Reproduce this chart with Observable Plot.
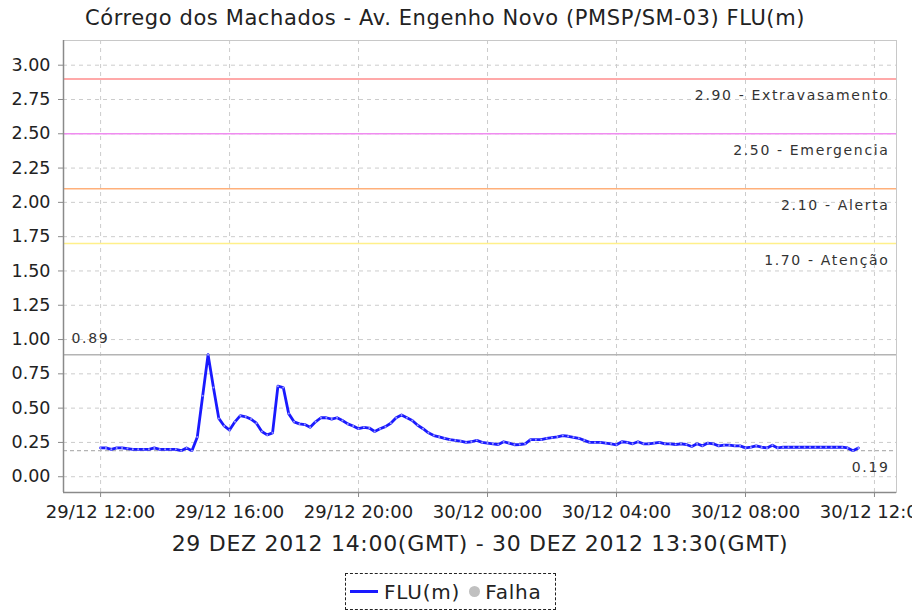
<!DOCTYPE html>
<html>
<head>
<meta charset="utf-8">
<script src="https://cdn.jsdelivr.net/npm/d3@7"></script>
<script src="https://cdn.jsdelivr.net/npm/@observablehq/plot@0.6"></script>
<style>
  html, body { margin: 0; padding: 0; background: #fff; }
  body { width: 912px; height: 614px; position: relative; overflow: hidden;
         font-family: "DejaVu Sans", sans-serif; color: #222; }
  #title { position: absolute; left: 0; width: 890px; top: 6px; text-align: center; font-size: 21px; letter-spacing: 0.6px; }
  #chart { position: absolute; left: 0; top: 38px; }
  #xlabel { position: absolute; left: 0; width: 960px; top: 531px; text-align: center; font-size: 22px; letter-spacing: 0.7px; }
  #legend { position: absolute; left: 345px; top: 573px;
            border: 1px dashed #222; display: flex; align-items: center; justify-content: flex-start;
            font-size: 20px; letter-spacing: 0.8px; padding-left: 4px; box-sizing: border-box; width: 211px; height: 37px; }
  .sw-line { width: 28px; height: 3px; background: #1a1aff; display: inline-block; margin-right: 6px; }
  .sw-dot { width: 11px; height: 11px; border-radius: 50%; background: #c0c0c0; display: inline-block; margin: 0 5px 0 9px; }
  #chart g[aria-label="text"] { letter-spacing: 1.65px; }
</style>
</head>
<body>
<div id="title">Córrego dos Machados - Av. Engenho Novo (PMSP/SM-03) FLU(m)</div>
<div id="chart"></div>
<div id="xlabel">29 DEZ 2012 14:00(GMT) - 30 DEZ 2012 13:30(GMT)</div>
<div id="legend"><span class="sw-line"></span><span>FLU(m)</span><span class="sw-dot"></span><span>Falha</span></div>
<script>
const times = [
"2012-12-29T12:00","2012-12-29T12:10","2012-12-29T12:20","2012-12-29T12:30","2012-12-29T12:40","2012-12-29T12:50",
"2012-12-29T13:00","2012-12-29T13:10","2012-12-29T13:20","2012-12-29T13:30","2012-12-29T13:40","2012-12-29T13:50",
"2012-12-29T14:00","2012-12-29T14:10","2012-12-29T14:20","2012-12-29T14:30","2012-12-29T14:40","2012-12-29T14:50",
"2012-12-29T15:00","2012-12-29T15:10","2012-12-29T15:20","2012-12-29T15:30","2012-12-29T15:40","2012-12-29T15:50",
"2012-12-29T16:00","2012-12-29T16:10","2012-12-29T16:20","2012-12-29T16:30","2012-12-29T16:40","2012-12-29T16:50",
"2012-12-29T17:00","2012-12-29T17:10","2012-12-29T17:20","2012-12-29T17:30","2012-12-29T17:40","2012-12-29T17:50",
"2012-12-29T18:00","2012-12-29T18:10","2012-12-29T18:20","2012-12-29T18:30","2012-12-29T18:40","2012-12-29T18:50",
"2012-12-29T19:00","2012-12-29T19:10","2012-12-29T19:20","2012-12-29T19:30","2012-12-29T19:40","2012-12-29T19:50",
"2012-12-29T20:00","2012-12-29T20:10","2012-12-29T20:20","2012-12-29T20:30","2012-12-29T20:40","2012-12-29T20:50",
"2012-12-29T21:00","2012-12-29T21:10","2012-12-29T21:20","2012-12-29T21:30","2012-12-29T21:40","2012-12-29T21:50",
"2012-12-29T22:00","2012-12-29T22:10","2012-12-29T22:20","2012-12-29T22:30","2012-12-29T22:40","2012-12-29T22:50",
"2012-12-29T23:00","2012-12-29T23:10","2012-12-29T23:20","2012-12-29T23:30","2012-12-29T23:40","2012-12-29T23:50",
"2012-12-30T00:00","2012-12-30T00:10","2012-12-30T00:20","2012-12-30T00:30","2012-12-30T00:40","2012-12-30T00:50",
"2012-12-30T01:00","2012-12-30T01:10","2012-12-30T01:20","2012-12-30T01:30","2012-12-30T01:40","2012-12-30T01:50",
"2012-12-30T02:00","2012-12-30T02:10","2012-12-30T02:20","2012-12-30T02:30","2012-12-30T02:40","2012-12-30T02:50",
"2012-12-30T03:00","2012-12-30T03:10","2012-12-30T03:20","2012-12-30T03:30","2012-12-30T03:40","2012-12-30T03:50",
"2012-12-30T04:00","2012-12-30T04:10","2012-12-30T04:20","2012-12-30T04:30","2012-12-30T04:40","2012-12-30T04:50",
"2012-12-30T05:00","2012-12-30T05:10","2012-12-30T05:20","2012-12-30T05:30","2012-12-30T05:40","2012-12-30T05:50",
"2012-12-30T06:00","2012-12-30T06:10","2012-12-30T06:20","2012-12-30T06:30","2012-12-30T06:40","2012-12-30T06:50",
"2012-12-30T07:00","2012-12-30T07:10","2012-12-30T07:20","2012-12-30T07:30","2012-12-30T07:40","2012-12-30T07:50",
"2012-12-30T08:00","2012-12-30T08:10","2012-12-30T08:20","2012-12-30T08:30","2012-12-30T08:40","2012-12-30T08:50",
"2012-12-30T09:00","2012-12-30T09:10","2012-12-30T09:20","2012-12-30T09:30","2012-12-30T09:40","2012-12-30T09:50",
"2012-12-30T10:00","2012-12-30T10:10","2012-12-30T10:20","2012-12-30T10:30","2012-12-30T10:40","2012-12-30T10:50",
"2012-12-30T11:00","2012-12-30T11:10","2012-12-30T11:20","2012-12-30T11:30"
];
const levels = [
0.21,0.21,0.20,0.21,0.21,0.205,
0.20,0.20,0.20,0.20,0.21,0.20,
0.20,0.20,0.20,0.19,0.21,0.19,
0.29,0.59,0.89,0.65,0.425,0.37,
0.34,0.40,0.445,0.437,0.42,0.39,
0.33,0.305,0.32,0.66,0.65,0.46,
0.40,0.385,0.38,0.36,0.40,0.43,
0.43,0.42,0.43,0.41,0.385,0.37,
0.35,0.36,0.355,0.33,0.35,0.365,
0.39,0.43,0.45,0.43,0.41,0.375,
0.35,0.32,0.30,0.29,0.28,0.27,
0.265,0.26,0.25,0.255,0.265,0.25,
0.245,0.24,0.235,0.255,0.245,0.233,
0.235,0.24,0.27,0.27,0.27,0.28,
0.285,0.29,0.30,0.295,0.287,0.28,
0.265,0.25,0.25,0.25,0.245,0.24,
0.233,0.255,0.25,0.24,0.255,0.24,
0.24,0.245,0.25,0.24,0.24,0.235,
0.24,0.235,0.22,0.24,0.225,0.245,
0.24,0.225,0.23,0.23,0.225,0.225,
0.21,0.215,0.225,0.215,0.21,0.23,
0.21,0.215,0.215,0.215,0.215,0.215,
0.215,0.215,0.215,0.215,0.215,0.215,
0.215,0.21,0.19,0.21
];
const thresholdValues = [2.90, 2.50, 2.10, 1.70];
const thresholdNames = ["Extravasamento", "Emergencia", "Alerta", "Atenção"];
const thresholdColors = ["#ff8c8c", "#f08cf0", "#ffb07a", "#fff08a"];
const maxValue = 0.89;
const minValue = 0.19;
const yTicks = [0, 0.25, 0.5, 0.75, 1, 1.25, 1.5, 1.75, 2, 2.25, 2.5, 2.75, 3];
const xTickLabels = ["2012-12-29T12:00","2012-12-29T16:00","2012-12-29T20:00","2012-12-30T00:00","2012-12-30T04:00","2012-12-30T08:00","2012-12-30T12:00"];
const xDomain = ["2012-12-29T10:51", "2012-12-30T12:41"];

const toDate = s => new Date(s + ":00Z");
const series = times.map((t, i) => ({t: toDate(t), v: levels[i]}));
const thresholds = thresholdValues.map((v, i) => ({v, name: thresholdNames[i], color: thresholdColors[i]}));
const xTicks = xTickLabels.map(toDate);
const pad = n => String(n).padStart(2, "0");
const fmtX = d => `${pad(d.getUTCDate())}/${pad(d.getUTCMonth() + 1)} ${pad(d.getUTCHours())}:${pad(d.getUTCMinutes())}`;
const labelStyle = {fontFamily: '"DejaVu Sans", sans-serif', fontSize: 14, fill: "#333"};

const chart = Plot.plot({
  width: 912,
  height: 490,
  marginLeft: 63,
  marginRight: 16,
  marginTop: 2,
  marginBottom: 36,
  style: {fontFamily: '"DejaVu Sans", sans-serif', fontSize: "17px", color: "#222", background: "#fff"},
  x: {type: "utc", domain: xDomain.map(toDate)},
  y: {domain: [-0.115, 3.18]},
  marks: [
    Plot.gridX(xTicks, {stroke: "#cccccc", strokeOpacity: 1, strokeDasharray: "4,4"}),
    Plot.gridY(yTicks, {stroke: "#cccccc", strokeOpacity: 1, strokeDasharray: "4,4"}),
    Plot.frame({stroke: "#c8c8c8"}),
    Plot.ruleY(thresholds, {y: "v", stroke: "color", strokeWidth: 1.5}),
    Plot.text(thresholds, {y: "v", text: d => `${d.v.toFixed(2)} - ${d.name}`, frameAnchor: "right", textAnchor: "end", dx: -7, dy: 17, ...labelStyle}),
    Plot.ruleY([maxValue], {stroke: "#b4b4b4", strokeWidth: 1.5}),
    Plot.text([maxValue], {y: d => d, text: d => d.toFixed(2), frameAnchor: "left", textAnchor: "start", dx: 8, dy: -16, ...labelStyle}),
    Plot.ruleY([minValue], {stroke: "#b4b4b4", strokeWidth: 1.2, strokeDasharray: "4,3"}),
    Plot.text([minValue], {y: d => d, text: d => d.toFixed(2), frameAnchor: "right", textAnchor: "end", dx: -7, dy: 17, ...labelStyle}),
    Plot.line(series, {x: "t", y: "v", stroke: "#1a1aff", strokeWidth: 2.8, strokeLinejoin: "round"}),
    Plot.dot(series, {x: "t", y: "v", r: 1, fill: "#9a9aff", stroke: null}),
    Plot.ruleX([toDate(xDomain[0])], {stroke: "#8a8a8a", strokeWidth: 1.5}),
    Plot.ruleY([-0.115], {stroke: "#8a8a8a", strokeWidth: 1.5}),
    Plot.axisY(yTicks, {tickFormat: d3.format(".2f"), tickSize: 5, tickPadding: 8, stroke: "#8a8a8a", fill: "#222", label: null, fontSize: 17.5}),
    Plot.axisX(xTicks, {tickFormat: fmtX, tickSize: 5, tickPadding: 8, stroke: "#8a8a8a", fill: "#222", label: null, fontSize: 18})
  ]
});
document.getElementById("chart").appendChild(chart);
</script>
</body>
</html>
